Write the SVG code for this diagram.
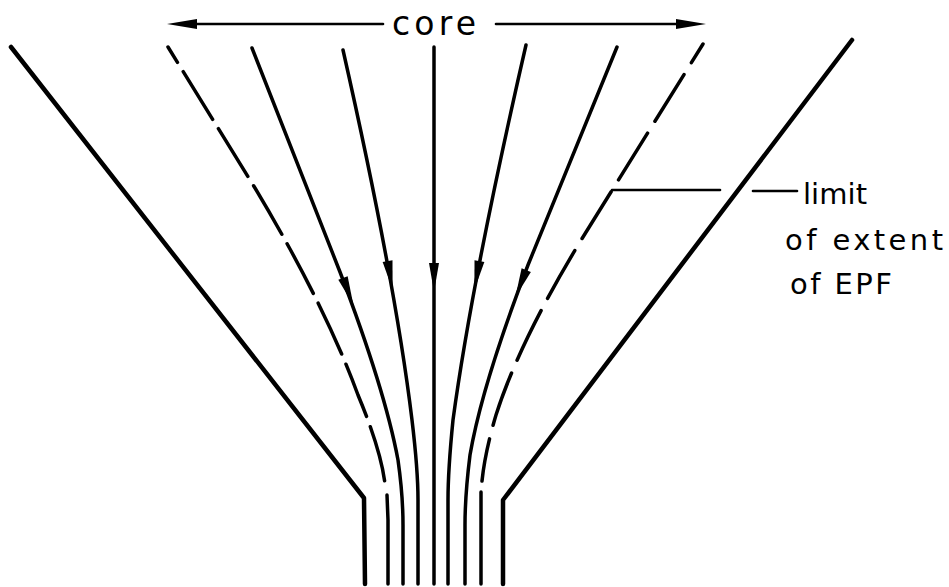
<svg xmlns="http://www.w3.org/2000/svg" xmlns:xlink="http://www.w3.org/1999/xlink" width="949" height="587" viewBox="0 0 949 587">
<style>
.wall{fill:none;stroke:#000;stroke-width:4.5;stroke-linecap:round;stroke-linejoin:round}
.sl{fill:none;stroke:#000;stroke-width:3.5;stroke-linecap:round;stroke-linejoin:round}
.thin{fill:none;stroke:#000;stroke-width:2.6;stroke-linecap:round}
.dl{stroke-dasharray:56 11;stroke-dashoffset:38}
.dr{stroke-dasharray:55 14;stroke-dashoffset:33}
.lbl{font-family:"DejaVu Sans","Liberation Sans",sans-serif;font-size:29px;fill:#000}
.core{font-size:33px}
</style>
<defs>
<path id="ah" d="M-5,-14 L5,-14 L0,15 Z" fill="#000"/>
</defs>
<rect width="949" height="587" fill="#fff"/>
<g id="walls">
<path id="wall-left" class="wall" d="M11,47 L364,498 L365,584"/>
<path id="wall-right" class="wall" d="M852,40 L503,500 L503,584"/>
</g>
<g id="connectors">
<path class="sl dl" d="M168,47 L255,188 Q325,305 358,395 Q381,450 385,484"/>
<path class="sl" d="M387,495 L388,520 L388,584"/>
<path class="sl" d="M252,48 L340,272 Q385,390 398,460 Q403,495 403,525 L403,584"/>
<path class="sl" d="M343,50 Q395,280 412,420 Q418,470 418,500 L418,584"/>
<path class="sl" d="M434,47 L434,584"/>
<path class="sl" d="M526,45 Q472,280 453,420 Q448,470 448,500 L448,584"/>
<path class="sl" d="M617,47 L528,265 Q482,385 470,455 Q465,495 465,525 L465,584"/>
<path class="sl dr" d="M703,44 L583,237 Q520,340 496,415 Q485,452 482,481"/>
<path class="sl" d="M481,492 L481,584"/>
<use xlink:href="#ah" transform="translate(348,291) rotate(-21)"/>
<use xlink:href="#ah" transform="translate(390,275) rotate(-10)"/>
<use xlink:href="#ah" transform="translate(434,277)"/>
<use xlink:href="#ah" transform="translate(477,275) rotate(10)"/>
<use xlink:href="#ah" transform="translate(521,283) rotate(22)"/>
<path class="thin" d="M612,190 L720,190"/>
<path class="thin" d="M753,191 L797,191"/>
<path class="thin" d="M195,24 L383,24"/>
<path d="M167,24 L197,19 L197,29 Z" fill="#000"/>
<path class="thin" d="M496,24 L678,24"/>
<path d="M706,24 L676,19 L676,29 Z" fill="#000"/>
</g>
<g id="labels">
<text class="lbl core" x="392" y="35" textLength="84" lengthAdjust="spacing">core</text>
<text class="lbl" x="803" y="204" textLength="64" lengthAdjust="spacing">limit</text>
<text class="lbl" x="785" y="250" textLength="158" lengthAdjust="spacing">of extent</text>
<text class="lbl" x="790" y="294" textLength="102" lengthAdjust="spacing">of EPF</text>
</g>
</svg>
